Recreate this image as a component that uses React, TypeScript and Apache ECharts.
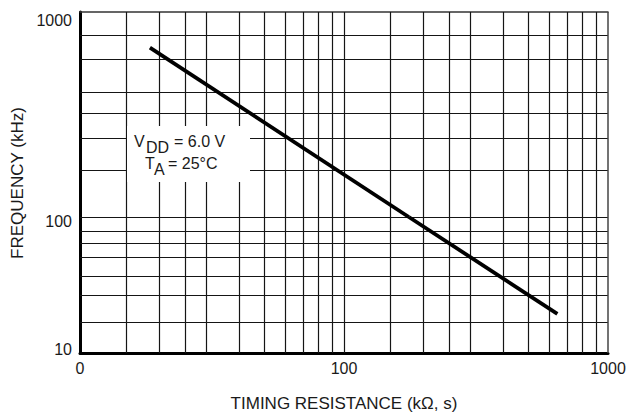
import { useEffect, useRef } from "react";
import * as echarts from "echarts";

// Curve (kΩ → kHz). The middle point is where the line crosses the 100 kHz row.
const resistance = [18.4, 176, 643];
const frequency = [670, 100, 19.4];

// Grid lines of the chart paper
const xGridValues = [15, 20, 25, 30, 40, 50, 60, 70, 80, 90, 100, 150, 200, 250, 300, 400, 500, 600, 700, 800, 900];
const upperYGridValues = [770, 590, 405, 320, 242, 170];
const lowerYGridValues = [100, 79, 64, 50.5, 36.5, 26.5, 16.7];

// Tick labels
const xTickValues = [10, 100, 1000];
const xTickLabels = ["0", "100", "1000"];
const upperYTickValues = [1000];
const lowerYTickValues = [100, 10];

const FONT = "'Liberation Sans', Arial, Helvetica, sans-serif";
const TEXT_COLOR = "#1a1a1a";

function gridSeries(index: number, yValues: number[]) {
  return {
    type: "line",
    xAxisIndex: index,
    yAxisIndex: index,
    data: [],
    silent: true,
    z: 1,
    markLine: {
      silent: true,
      symbol: ["none", "none"],
      label: { show: false },
      emphasis: { disabled: true },
      lineStyle: { color: "#151515", width: 1.2, type: "solid" },
      data: [
        ...xGridValues.map((v) => ({ xAxis: v })),
        ...yValues.map((v) => ({ yAxis: v })),
        { xAxis: 1000, lineStyle: { color: "#444", width: 1.5, type: "solid" } },
      ],
    },
  };
}

function annotationText(text: string, x: number, y: number) {
  return {
    type: "text",
    z: 101,
    silent: true,
    x,
    y,
    style: { text, font: `16px ${FONT}`, fill: TEXT_COLOR },
  };
}

export default function App() {
  const ref = useRef<HTMLDivElement>(null);

  useEffect(() => {
    if (!ref.current) return;
    const chart = echarts.init(ref.current, null, { renderer: "svg" });

    const curveStyle = { color: "#000", width: 3.8, cap: "butt" };
    const labelBase = { fontSize: 16, color: TEXT_COLOR, fontFamily: FONT };

    chart.setOption({
      animation: false,
      backgroundColor: "#fff",
      textStyle: { fontFamily: FONT },
      grid: [
        { left: 80, top: 12, width: 528, height: 205, outerBoundsMode: "none" },
        { left: 80, top: 217, width: 528, height: 136, outerBoundsMode: "none" },
      ],
      xAxis: [
        {
          gridIndex: 0,
          type: "log",
          logBase: 10,
          min: 10,
          max: 1000,
          position: "top",
          axisLine: { show: true, lineStyle: { color: "#333", width: 1.5 } },
          axisTick: { show: false },
          axisLabel: { show: false },
          splitLine: { show: false },
        },
        {
          gridIndex: 1,
          type: "log",
          logBase: 10,
          min: 10,
          max: 1000,
          position: "bottom",
          axisLine: { show: true, lineStyle: { color: "#000", width: 3 } },
          axisTick: { show: false },
          splitLine: { show: false },
          axisLabel: {
            show: true,
            margin: 7,
            ...labelBase,
            formatter: (v: number) => {
              const i = xTickValues.indexOf(Math.round(v));
              return i >= 0 ? xTickLabels[i] : "";
            },
          },
          name: "TIMING RESISTANCE (kΩ, s)",
          nameLocation: "middle",
          nameGap: 42,
          nameTextStyle: { fontSize: 17, color: TEXT_COLOR, fontFamily: FONT },
        },
      ],
      yAxis: [
        {
          gridIndex: 0,
          type: "log",
          logBase: 10,
          min: 100,
          max: 1000,
          axisLine: { show: true, lineStyle: { color: "#000", width: 3 } },
          axisTick: { show: false },
          splitLine: { show: false },
          axisLabel: {
            show: true,
            margin: 8,
            ...labelBase,
            verticalAlign: "top",
            formatter: (v: number) => (upperYTickValues.includes(Math.round(v)) ? String(Math.round(v)) : ""),
          },
        },
        {
          gridIndex: 1,
          type: "log",
          logBase: 10,
          min: 10,
          max: 100,
          axisLine: { show: true, lineStyle: { color: "#000", width: 3 } },
          axisTick: { show: false },
          splitLine: { show: false },
          axisLabel: {
            show: true,
            margin: 8,
            ...labelBase,
            formatter: (v: number) => {
              const r = Math.round(v);
              if (!lowerYTickValues.includes(r)) return "";
              return r === 100 ? `{lo|${r}}` : `{hi|${r}}`;
            },
            rich: {
              lo: { ...labelBase, padding: [8, 0, 0, 0] },
              hi: { ...labelBase, padding: [0, 0, 8, 0] },
            },
          },
        },
      ],
      series: [
        gridSeries(0, upperYGridValues),
        gridSeries(1, lowerYGridValues),
        {
          type: "line",
          xAxisIndex: 0,
          yAxisIndex: 0,
          z: 5,
          symbol: "none",
          showSymbol: false,
          silent: true,
          lineStyle: curveStyle,
          data: [
            [resistance[0], frequency[0]],
            [resistance[1], frequency[1]],
          ],
        },
        {
          type: "line",
          xAxisIndex: 1,
          yAxisIndex: 1,
          z: 5,
          symbol: "none",
          showSymbol: false,
          silent: true,
          lineStyle: curveStyle,
          data: [
            [resistance[1], frequency[1]],
            [resistance[2], frequency[2]],
          ],
        },
      ],
      graphic: [
        {
          type: "rect",
          z: 100,
          silent: true,
          shape: { x: 127, y: 126, width: 123, height: 56 },
          style: { fill: "#fff" },
        },
        annotationText("V", 134, 133),
        annotationText("DD", 146, 139),
        annotationText("= 6.0 V", 174, 133),
        annotationText("T", 145, 155),
        annotationText("A", 154, 161),
        annotationText("= 25°C", 168, 155),
        {
          type: "text",
          silent: true,
          z: 101,
          x: 17,
          y: 183,
          rotation: Math.PI / 2,
          style: {
            text: "FREQUENCY (kHz)",
            font: `17px ${FONT}`,
            fill: TEXT_COLOR,
            align: "center",
            verticalAlign: "middle",
          },
        },
      ],
    });

    return () => chart.dispose();
  }, []);

  return (
    <div
      ref={ref}
      style={{ position: "fixed", left: 0, top: 0, width: 627, height: 418, background: "#fff" }}
    />
  );
}
